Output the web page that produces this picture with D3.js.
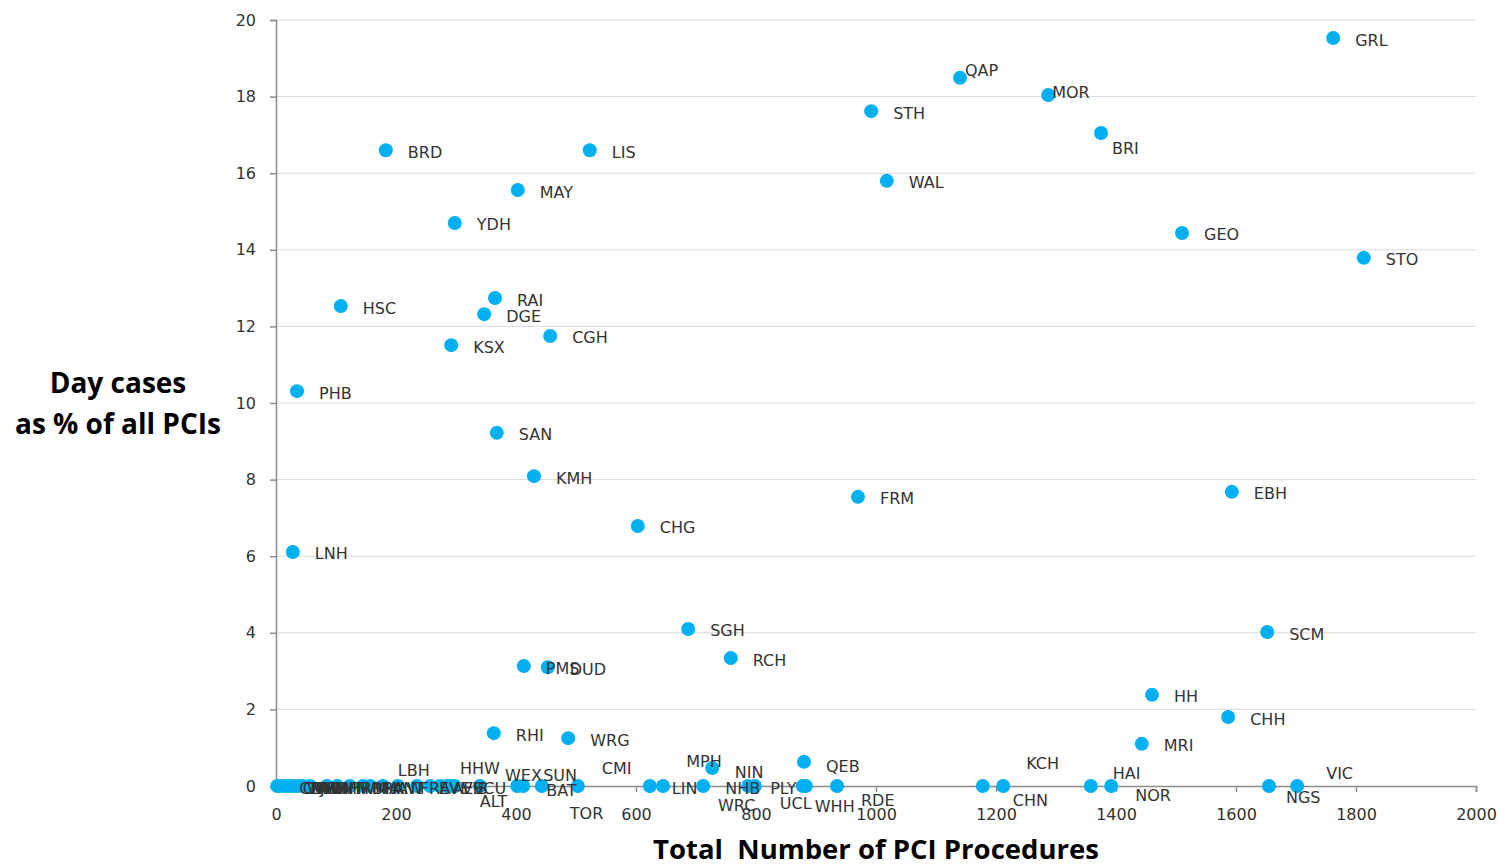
<!DOCTYPE html>
<html>
<head>
<meta charset="utf-8">
<script src="https://cdn.jsdelivr.net/npm/d3@7"></script>
<style>
  html, body { margin: 0; padding: 0; background: #fff; }
  svg { display: block; }
</style>
</head>
<body>
<svg id="chart" width="1499" height="868"></svg>
<script>
// ---------------- DATA ----------------
const centres = [
  "GRL","QAP","MOR","STH","BRI","BRD","LIS","WAL","MAY","YDH","GEO","STO",
  "HSC","RAI","DGE","CGH","KSX","PHB","SAN","KMH","FRM","EBH","CHG","LNH",
  "SGH","SCM","RCH","PMS","DUD","HH","CHH","RHI","WRG","MRI","QEB","MPH",
  "CMH","GWH","WMH","BHH","RHA","JCH","WHT","BMH","HRM","WMA","BRA","HAW",
  "ANT","LBH","FRA","EVE","AEV","VIS","HHW","SCU","ALT","WEX","BAT","SUN",
  "TOR","CMI","LIN","WRC","NHB","PLY","NIN","UCL","WHH","RDE","CHN","KCH",
  "HAI","NOR","NGS","VIC"
];
const totalProcedures = [
  1762,1140,1287,992,1375,183,523,1018,403,298,1510,1813,
  108,365,347,457,292,35,368,430,970,1593,603,28,
  687,1652,758,413,453,1460,1587,363,487,1443,880,727,
  2,8,15,23,30,37,45,57,85,102,123,145,
  157,178,203,235,257,273,285,292,298,340,402,412,
  443,503,623,645,712,787,798,878,883,935,1178,1212,
  1358,1392,1655,1702
];
const dayCasePct = [
  19.53,18.49,18.04,17.62,17.05,16.60,16.60,15.80,15.56,14.70,14.44,13.79,
  12.53,12.74,12.32,11.75,11.51,10.31,9.22,8.09,7.55,7.68,6.79,6.11,
  4.10,4.02,3.34,3.13,3.10,2.38,1.80,1.38,1.25,1.10,0.63,0.47,
  0,0,0,0,0,0,0,0,0,0,0,0,
  0,0,0,0,0,0,0,0,0,0,0,0,
  0,0,0,0,0,0,0,0,0,0,0,0,
  0,0,0,0
];
const xTickValues = [0,200,400,600,800,1000,1200,1400,1600,1800,2000];
const yTickValues = [0,2,4,6,8,10,12,14,16,18,20];
const xTitle = "Total  Number of PCI Procedures";
const yTitleLines = ["Day cases", "as % of all PCIs"];

// ---------------- LAYOUT (label nudges, px) ----------------
const defaultNudge = [22, 2];
const labelNudge = {
  QAP: [5, -7], MOR: [4, -3], BRI: [11, 16], QEB: [22, 5], MPH: [-26, -6],
  LBH: [15, -16], HHW: [13, -18], ALT: [25, 15], WEX: [25, -11], BAT: [29, 4],
  SUN: [20, -11], TOR: [28, 27], CMI: [24, -18], NIN: [-20, -14], WRC: [55, 19],
  UCL: [-23, 17], WHH: [9, 20], RDE: [24, 14], CHN: [30, 14], KCH: [23, -23],
  HAI: [22, -13], NOR: [24, 9], VIC: [29, -13], NGS: [17, 11]
};

const points = centres.map((c, i) => ({ name: c, x: totalProcedures[i], y: dayCasePct[i] }));

// ---------------- CHART ----------------
const svg = d3.select("#chart");
const x = d3.scaleLinear().domain([0, 2000]).range([276, 1476]);
const y = d3.scaleLinear().domain([0, 20]).range([786, 20]);

const textColor = "#333333";
const axisColor = "#8c8c8c";
const gridColor = "#d9d9d9";

// gridlines
svg.append("g")
  .selectAll("line")
  .data(yTickValues.filter(v => v !== 0))
  .join("line")
  .attr("x1", x(0)).attr("x2", x(2000))
  .attr("y1", d => y(d)).attr("y2", d => y(d))
  .attr("stroke", gridColor).attr("stroke-width", 1);

// y axis
const yAxis = svg.append("g")
  .attr("transform", `translate(${x(0)},0)`)
  .call(d3.axisLeft(y).tickValues(yTickValues).tickSize(6).tickPadding(14).tickFormat(d3.format("d")));
yAxis.select(".domain").attr("stroke", axisColor).attr("stroke-width", 1.5);
yAxis.selectAll(".tick line").attr("stroke", axisColor).attr("stroke-width", 1.5);
yAxis.selectAll(".tick text")
  .attr("fill", textColor).style("font-family", "DejaVu Sans").style("font-size", "16px");

// x axis
const xAxis = svg.append("g")
  .attr("transform", `translate(0,${y(0)})`)
  .call(d3.axisBottom(x).tickValues(xTickValues).tickSize(6).tickPadding(17).tickFormat(d3.format("d")));
xAxis.select(".domain").attr("stroke", axisColor).attr("stroke-width", 1.5);
xAxis.selectAll(".tick line").attr("stroke", axisColor).attr("stroke-width", 1.5);
xAxis.selectAll(".tick text")
  .attr("fill", textColor).style("font-family", "DejaVu Sans").style("font-size", "16px");

// points
svg.append("g")
  .selectAll("circle")
  .data(points)
  .join("circle")
  .attr("cx", d => x(d.x))
  .attr("cy", d => y(d.y))
  .attr("r", 7)
  .attr("fill", "#00B0F0");

// labels
svg.append("g")
  .selectAll("text")
  .data(points)
  .join("text")
  .attr("x", d => x(d.x) + (labelNudge[d.name] || defaultNudge)[0])
  .attr("y", d => y(d.y) + (labelNudge[d.name] || defaultNudge)[1])
  .attr("dominant-baseline", "central")
  .attr("fill", textColor)
  .style("font-family", "DejaVu Sans")
  .style("font-size", "16px")
  .text(d => d.name);

// axis titles
svg.append("text")
  .attr("x", 876).attr("y", 859)
  .attr("text-anchor", "middle")
  .attr("fill", "#000")
  .style("font-family", "Open Sans").style("font-weight", "bold").style("font-size", "27.5px")
  .style("white-space", "pre")
  .text(xTitle);

svg.append("text")
  .attr("text-anchor", "middle")
  .attr("fill", "#000")
  .style("font-family", "Open Sans").style("font-weight", "bold").style("font-size", "28px")
  .selectAll("tspan")
  .data(yTitleLines)
  .join("tspan")
  .attr("x", 118)
  .attr("y", (d, i) => 393 + i * 41)
  .text(d => d);
</script>
</body>
</html>
